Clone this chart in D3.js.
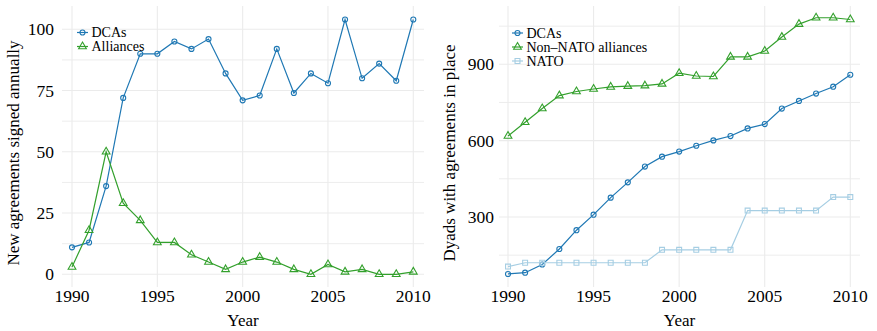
<!DOCTYPE html>
<html>
<head>
<meta charset="utf-8">
<script src="https://cdn.jsdelivr.net/npm/d3@7"></script>
<style>
  body { margin: 0; background: #fff; }
</style>
</head>
<body>
<div id="chart"></div>
<script>
// years on the x axis (shared by both panels)
const years = [1990, 1991, 1992, 1993, 1994, 1995, 1996, 1997, 1998, 1999, 2000,
               2001, 2002, 2003, 2004, 2005, 2006, 2007, 2008, 2009, 2010];

// left panel: new agreements signed annually
const dcaNew      = [11, 13, 36, 72, 90, 90, 95, 92, 96, 82, 71, 73, 92, 74, 82, 78, 104, 80, 86, 79, 104];
const allianceNew = [3, 18, 50, 29, 22, 13, 13, 8, 5, 2, 5, 7, 5, 2, 0, 4, 1, 2, 0, 0, 1];

// right panel: dyads with agreements in place
const dcaStock     = [76, 81, 113, 174, 248, 309, 376, 436, 498, 537, 557, 580, 601, 618, 648, 665, 726, 756, 785, 812, 859];
const nonNatoStock = [618, 672, 726, 777, 793, 803, 811, 814, 816, 823, 865, 854, 852, 929, 929, 952, 1007, 1058, 1083, 1083, 1076];
const natoStock    = [105, 120, 120, 120, 120, 120, 120, 120, 120, 171, 171, 171, 171, 171, 325, 325, 325, 325, 325, 378, 378];

// tick labels
const xTicks = [1990, 1995, 2000, 2005, 2010];
const leftYTicks = [0, 25, 50, 75, 100];
const rightYTicks = [300, 600, 900];

const BLUE = "#1f78b4", GREEN = "#33a02c", LIGHT = "#a6cee3";
const FONT = "'Liberation Serif', 'Times New Roman', Times, serif";

const svg = d3.select("#chart").append("svg")
    .attr("width", 877)
    .attr("height", 331)
    .attr("font-family", FONT)
    .style("font-family", FONT);

// one panel of the figure
function drawPanel(cfg) {
    const g = svg.append("g");
    const xScale = d3.scaleLinear().domain([1990, 2010]).range(cfg.xRange);
    const yScale = d3.scaleLinear().domain(cfg.yDomain).range(cfg.yRange);

    // minor + major horizontal grid
    g.selectAll(".hgrid").data(cfg.yGrid).enter().append("line")
        .attr("x1", cfg.panel[0]).attr("x2", cfg.panel[1])
        .attr("y1", d => yScale(d)).attr("y2", d => yScale(d))
        .attr("stroke", "#ebebeb")
        .attr("stroke-width", d => cfg.yTicks.includes(d) ? 1.1 : 0.9);

    // vertical grid
    g.selectAll(".vgrid").data(xTicks).enter().append("line")
        .attr("x1", d => xScale(d)).attr("x2", d => xScale(d))
        .attr("y1", cfg.panel[2]).attr("y2", cfg.panel[3])
        .attr("stroke", "#ebebeb")
        .attr("stroke-width", 1.1);

    // tick labels
    g.selectAll(".xlab").data(xTicks).enter().append("text")
        .attr("x", d => xScale(d)).attr("y", 302)
        .attr("text-anchor", "middle")
        .attr("font-size", 17.5)
        .attr("fill", "#000")
        .text(d => d);

    g.selectAll(".ylab").data(cfg.yTicks).enter().append("text")
        .attr("x", cfg.yLabelX).attr("y", d => yScale(d))
        .attr("dy", "0.34em")
        .attr("text-anchor", "end")
        .attr("font-size", 17.5)
        .attr("fill", "#000")
        .text(d => d);

    // axis titles
    g.append("text")
        .attr("x", (cfg.panel[0] + cfg.panel[1]) / 2).attr("y", 326)
        .attr("text-anchor", "middle")
        .attr("font-size", 17)
        .attr("fill", "#000")
        .text("Year");

    g.append("text")
        .attr("transform", `translate(${cfg.titleX},153) rotate(-90)`)
        .attr("text-anchor", "middle")
        .attr("font-size", 17)
        .attr("fill", "#000")
        .text(cfg.yTitle);

    // series
    const line = d3.line().x((d, i) => xScale(years[i])).y(d => yScale(d));
    cfg.series.forEach(s => {
        g.append("path")
            .datum(s.values)
            .attr("d", line)
            .attr("fill", "none")
            .attr("stroke", s.color)
            .attr("stroke-width", 1.2);
        drawMarkers(g, s.values.map((v, i) => [xScale(years[i]), yScale(v)]), s);
    });

    // legend
    cfg.series.forEach((s, i) => {
        const y = cfg.legend[1] + i * 14;
        g.append("line")
            .attr("x1", cfg.legend[0]).attr("x2", cfg.legend[0] + 11)
            .attr("y1", y).attr("y2", y)
            .attr("stroke", s.color).attr("stroke-width", 1.2);
        drawMarkers(g, [[cfg.legend[0] + 5.5, y]], s);
        g.append("text")
            .attr("x", cfg.legend[0] + 14.5).attr("y", y)
            .attr("dy", "0.33em")
            .attr("font-size", 14)
            .attr("fill", "#000")
            .text(s.name);
    });
}

function drawMarkers(g, pts, s) {
    const types = { circle: d3.symbolCircle, triangle: d3.symbolTriangle, square: d3.symbolSquare };
    const sizes = { circle: 20, triangle: 26, square: 24 };
    g.selectAll(null).data(pts).enter().append("path")
        .attr("d", d3.symbol().type(types[s.shape]).size(sizes[s.shape]))
        .attr("transform", d => `translate(${d[0]},${d[1]})`)
        .attr("fill", "none")
        .attr("stroke", s.color)
        .attr("stroke-width", 1.1);
}

drawPanel({
    xRange: [72, 413.3],
    yDomain: [0, 100],
    yRange: [274.3, 29.3],
    panel: [62, 424, 6, 287],
    yGrid: [0, 12.5, 25, 37.5, 50, 62.5, 75, 87.5, 100],
    yTicks: leftYTicks,
    yLabelX: 54,
    titleX: 19,
    yTitle: "New agreements signed annually",
    legend: [77, 32.5],
    series: [
        { name: "DCAs", values: dcaNew, color: BLUE, shape: "circle" },
        { name: "Alliances", values: allianceNew, color: GREEN, shape: "triangle" }
    ]
});

drawPanel({
    xRange: [508, 850.3],
    yDomain: [0, 900],
    yRange: [293.3, 64.3],
    panel: [499, 860, 6, 287],
    yGrid: [150, 300, 450, 600, 750, 900, 1050],
    yTicks: rightYTicks,
    yLabelX: 494,
    titleX: 455,
    yTitle: "Dyads with agreements in place",
    legend: [512, 33],
    series: [
        { name: "DCAs", values: dcaStock, color: BLUE, shape: "circle" },
        { name: "Non\u2013NATO alliances", values: nonNatoStock, color: GREEN, shape: "triangle" },
        { name: "NATO", values: natoStock, color: LIGHT, shape: "square" }
    ]
});
</script>
</body>
</html>
